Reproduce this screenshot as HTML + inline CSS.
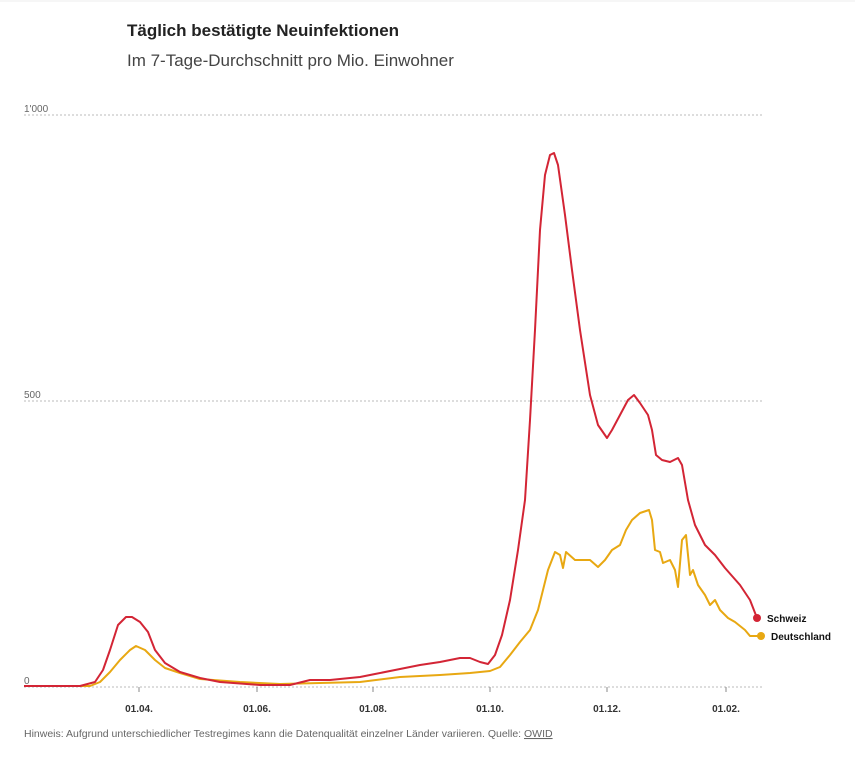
<!DOCTYPE html>
<html><head><meta charset="utf-8"><style>
body{margin:0;background:#fff;width:855px;height:757px;overflow:hidden;font-family:"Liberation Sans",sans-serif;}
</style></head><body>
<svg width="855" height="757" viewBox="0 0 855 757" xmlns="http://www.w3.org/2000/svg">
<line x1="0" y1="1" x2="855" y2="1" stroke="#eee"/>
<text x="127" y="36" font-size="17" font-weight="bold" fill="#222">Täglich bestätigte Neuinfektionen</text>
<text x="127" y="66" font-size="17" fill="#444">Im 7-Tage-Durchschnitt pro Mio. Einwohner</text>
<g stroke="#bbb" stroke-dasharray="2,2" stroke-width="1">
<line x1="24" y1="115" x2="762" y2="115"/>
<line x1="24" y1="401" x2="762" y2="401"/>
<line x1="24" y1="687" x2="762" y2="687"/>
</g>
<g font-size="10" fill="#666">
<text x="24" y="112">1'000</text>
<text x="24" y="398">500</text>
<text x="24" y="684">0</text>
</g>
<g stroke="#888" stroke-width="1">
<line x1="139" y1="687" x2="139" y2="692"/><line x1="257" y1="687" x2="257" y2="692"/>
<line x1="373" y1="687" x2="373" y2="692"/><line x1="490" y1="687" x2="490" y2="692"/>
<line x1="607" y1="687" x2="607" y2="692"/><line x1="726" y1="687" x2="726" y2="692"/>
</g>
<g font-size="10" font-weight="bold" fill="#333" text-anchor="middle">
<text x="139" y="712">01.04.</text><text x="257" y="712">01.06.</text><text x="373" y="712">01.08.</text>
<text x="490" y="712">01.10.</text><text x="607" y="712">01.12.</text><text x="726" y="712">01.02.</text>
</g>
<polyline fill="none" stroke="#e8a812" stroke-width="2" stroke-linejoin="round" points="24,686 90,686 100,682 110,672 120,660 130,650 136,646 145,650 155,660 165,668 180,673 200,679 240,682 280,684 320,683 360,682 400,677 440,675 470,673 490,671 500,667 510,655 520,642 530,630 538,610 543,590 548,570 555,552 560,555 563,568 566,552 575,560 590,560 598,567 605,560 612,550 620,545 626,530 632,520 640,513 649,510 652,520 655,550 660,552 663,563 670,560 675,570 678,587 682,540 686,535 690,575 693,570 698,585 705,595 710,605 715,600 720,610 728,618 735,622 745,630 750,636 761,636"/>
<polyline fill="none" stroke="#d32535" stroke-width="2" stroke-linejoin="round" points="24,686 80,686 95,682 103,670 110,650 118,625 126,617 132,617 140,622 148,632 155,650 165,663 180,672 200,678 220,682 260,685 290,685 310,680 330,680 360,677 375,674 395,670 420,665 440,662 460,658 470,658 480,662 488,664 495,655 502,635 510,600 518,550 525,500 530,420 535,330 540,230 545,175 550,155 554,153 558,165 565,215 572,270 580,330 590,395 598,425 607,438 612,430 620,415 628,400 634,395 640,403 648,415 652,430 656,455 662,460 670,462 678,458 682,465 688,500 695,525 705,545 715,555 725,568 740,585 750,600 757,618"/>
<circle cx="757" cy="618" r="4" fill="#d32535"/>
<circle cx="761" cy="636" r="4" fill="#e8a812"/>
<text x="767" y="622" font-size="10" font-weight="bold" fill="#111">Schweiz</text>
<text x="771" y="640" font-size="10" font-weight="bold" fill="#111">Deutschland</text>
<text x="24" y="737" font-size="10.5" fill="#666">Hinweis: Aufgrund unterschiedlicher Testregimes kann die Datenqualität einzelner Länder variieren. Quelle: <tspan text-decoration="underline">OWID</tspan></text>
</svg>
</body></html>
